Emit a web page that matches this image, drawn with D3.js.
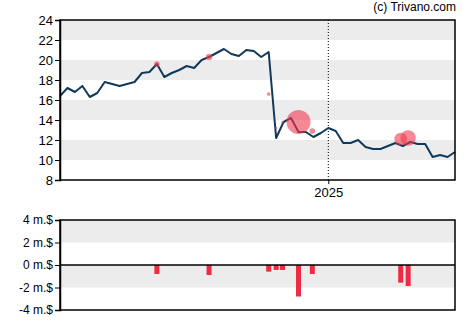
<!DOCTYPE html>
<html>
<head>
<meta charset="utf-8">
<script src="https://cdn.jsdelivr.net/npm/d3@7/dist/d3.min.js"></script>
<style>
  html, body { margin: 0; padding: 0; background: #fff; }
  svg { display: block; font-family: "Liberation Sans", Arial, sans-serif; }
</style>
</head>
<body>
<svg id="chart" width="470" height="325"></svg>
<script>
// Weekly closing prices (USD), first week starting 2024-04-24
const startDate = "2024-04-24";
const prices = [
  16.4, 17.2, 16.8, 17.4, 16.3, 16.7, 17.8, 17.6, 17.4, 17.6,
  17.8, 18.7, 18.8, 19.6, 18.3, 18.7, 19.0, 19.4, 19.2, 20.0,
  20.3, 20.7, 21.1, 20.6, 20.4, 21.0, 20.9, 20.3, 20.8, 12.2,
  13.8, 14.2, 12.8, 12.8, 12.3, 12.7, 13.2, 12.9, 11.7, 11.7,
  12.0, 11.3, 11.1, 11.1, 11.4, 11.7, 11.4, 11.8, 11.6, 11.6,
  10.3, 10.5, 10.3, 10.8
];

// Insider transactions: date, price paid, net amount in millions of USD
const tradeDates = [
  "2024-07-24", "2024-09-11", "2024-11-06", "2024-11-13", "2024-11-19",
  "2024-12-04", "2024-12-17", "2025-03-10", "2025-03-17"
];
const tradePrices = [19.6, 20.3, 16.6, 13.2, 13.8, 13.8, 12.9, 12.1, 12.2];
const tradeAmounts = [-0.8, -0.89, -0.59, -0.44, -0.44, -2.8, -0.8, -1.57, -1.87];

const priceTicks = [8, 10, 12, 14, 16, 18, 20, 22, 24];
const amountTicks = [-4, -2, 0, 2, 4];
const yearTicks = ["2025-01-01"];

const parse = d3.timeParse("%Y-%m-%d");
const start = parse(startDate);
const weeks = d3.timeDay.range(start, d3.timeDay.offset(start, 7 * prices.length), 7);
const series = prices.map((p, i) => ({ date: weeks[i], value: p }));
const trades = tradeDates.map((d, i) => ({
  date: parse(d), price: tradePrices[i], amount: tradeAmounts[i]
}));

const svg = d3.select("#chart");
const left = 60, right = 455;
const top1 = 20, bottom1 = 180;
const top2 = 220, bottom2 = 310;
const bandFill = "#ececec";
const lineColor = "#0f3a5c";

const x = d3.scaleTime()
  .domain([weeks[0], weeks[weeks.length - 1]])
  .range([left, right]);
const y = d3.scaleLinear().domain([8, 24]).range([bottom1, top1]);
const y2 = d3.scaleLinear().domain([-4, 4]).range([bottom2, top2]);
const r = d3.scaleLinear().domain([0.4, 2.8]).range([1, 12]).clamp(true);

// --- price panel ---
const g1 = svg.append("g");
// alternating bands
g1.selectAll("rect.band")
  .data([22, 18, 14, 10])
  .join("rect")
  .attr("class", "band")
  .attr("x", left).attr("width", right - left)
  .attr("y", d => y(d + 2)).attr("height", d => y(d) - y(d + 2))
  .attr("fill", bandFill);

// year divider
g1.selectAll("line.year")
  .data(yearTicks.map(parse))
  .join("line")
  .attr("class", "year")
  .attr("x1", d => x(d)).attr("x2", d => x(d))
  .attr("y1", top1).attr("y2", bottom1)
  .attr("stroke", "#000").attr("stroke-width", 1)
  .attr("stroke-dasharray", "1,2");

// price line
g1.append("path")
  .datum(series)
  .attr("fill", "none")
  .attr("stroke", lineColor)
  .attr("stroke-width", 2)
  .attr("stroke-linejoin", "round")
  .attr("d", d3.line().x(d => x(d.date)).y(d => y(d.value)));

// trade markers
g1.selectAll("circle.trade")
  .data(trades)
  .join("circle")
  .attr("class", "trade")
  .attr("cx", d => x(d.date))
  .attr("cy", d => y(d.price))
  .attr("r", d => r(Math.abs(d.amount)))
  .attr("fill", "#f03a4f")
  .attr("fill-opacity", 0.6);

// frame
g1.append("rect")
  .attr("x", left).attr("y", top1)
  .attr("width", right - left).attr("height", bottom1 - top1)
  .attr("fill", "none").attr("stroke", "#000").attr("stroke-width", 1.5);

const yAxis = g1.append("g")
  .attr("transform", `translate(${left},0)`)
  .call(d3.axisLeft(y).tickValues(priceTicks).tickSize(5).tickPadding(2).tickFormat(d3.format("d")));
yAxis.select(".domain").attr("stroke-width", 1.5);
yAxis.selectAll("text").attr("font-size", 13).attr("fill", "#000");

const xAxis = g1.append("g")
  .attr("transform", `translate(0,${bottom1})`)
  .call(d3.axisBottom(x).tickValues(yearTicks.map(parse)).tickSize(4).tickPadding(4)
    .tickFormat(d3.timeFormat("%Y")));
xAxis.select(".domain").remove();
xAxis.selectAll("text").attr("font-size", 13).attr("fill", "#000");

// --- insider panel ---
const g2 = svg.append("g");
g2.selectAll("rect.band")
  .data([2, -2])
  .join("rect")
  .attr("class", "band")
  .attr("x", left).attr("width", right - left)
  .attr("y", d => y2(d + 2)).attr("height", d => y2(d) - y2(d + 2))
  .attr("fill", bandFill);

g2.selectAll("rect.bar")
  .data(trades)
  .join("rect")
  .attr("class", "bar")
  .attr("x", d => x(d.date) - 2.5)
  .attr("width", 5)
  .attr("y", d => y2(Math.max(0, d.amount)))
  .attr("height", d => Math.abs(y2(d.amount) - y2(0)))
  .attr("fill", "#ee2a44");

g2.append("line")
  .attr("x1", left).attr("x2", right)
  .attr("y1", y2(0)).attr("y2", y2(0))
  .attr("stroke", "#000").attr("stroke-width", 1.5);

g2.append("rect")
  .attr("x", left).attr("y", top2)
  .attr("width", right - left).attr("height", bottom2 - top2)
  .attr("fill", "none").attr("stroke", "#000").attr("stroke-width", 1.5);

const y2Axis = g2.append("g")
  .attr("transform", `translate(${left},0)`)
  .call(d3.axisLeft(y2).tickValues(amountTicks).tickSize(5).tickPadding(2)
    .tickFormat(d => `${d} m.$`));
y2Axis.select(".domain").attr("stroke-width", 1.5);
y2Axis.selectAll("text").attr("font-size", 12).attr("fill", "#000");

// credit
svg.append("text")
  .attr("x", 456).attr("y", 11)
  .attr("text-anchor", "end")
  .attr("font-size", 12)
  .attr("fill", "#000")
  .text("(c) Trivano.com");
</script>
</body>
</html>
